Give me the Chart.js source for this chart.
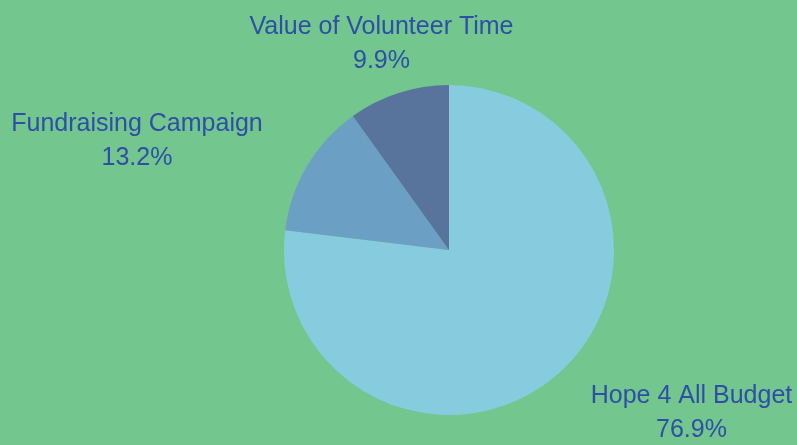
<!DOCTYPE html>
<html><head><meta charset="utf-8">
<script src="https://cdn.jsdelivr.net/npm/chart.js@4"></script>
<style>html,body{margin:0;padding:0;background:#72C68E;}#wrap{width:797px;height:445px;}</style>
</head><body><div id="wrap"><canvas id="c" width="797" height="445"></canvas></div>
<script>
const categories = ["Hope 4 All Budget", "Fundraising Campaign", "Value of Volunteer Time"];
const shares = [76.9, 13.2, 9.9];
const sliceColors = ["#86CCDE", "#6BA0C4", "#58739C"];
const labelOffsets = [[133, 40], [-170, -25], [-17, -49]];

const labelPlugin = {
  id: 'sliceLabels',
  afterDatasetsDraw(chart) {
    const ctx = chart.ctx;
    const meta = chart.getDatasetMeta(0);
    ctx.save();
    ctx.font = '25px "Liberation Sans", Arial, sans-serif';
    ctx.fillStyle = '#2E4FA6';
    ctx.textAlign = 'center';
    ctx.textBaseline = 'middle';
    meta.data.forEach((arc, i) => {
      const p = arc.getProps(['x','y','startAngle','endAngle','outerRadius'], true);
      const mid = (p.startAngle + p.endAngle) / 2;
      const ex = p.x + Math.cos(mid) * p.outerRadius;
      const ey = p.y + Math.sin(mid) * p.outerRadius;
      const cx = ex + labelOffsets[i][0];
      const cy = ey + labelOffsets[i][1];
      ctx.fillText(chart.data.labels[i], cx, cy - 17);
      ctx.fillText(chart.data.datasets[0].data[i].toFixed(1) + '%', cx, cy + 17);
    });
    ctx.restore();
  }
};

new Chart(document.getElementById('c'), {
  type: 'pie',
  data: {
    labels: categories,
    datasets: [{ data: shares, backgroundColor: sliceColors, borderWidth: 0 }]
  },
  options: {
    responsive: false,
    animation: false,
    layout: { padding: { top: 85, bottom: 30, left: 284, right: 183 } },
    plugins: { legend: { display: false }, tooltip: { enabled: false } }
  },
  plugins: [labelPlugin]
});
</script></body></html>
